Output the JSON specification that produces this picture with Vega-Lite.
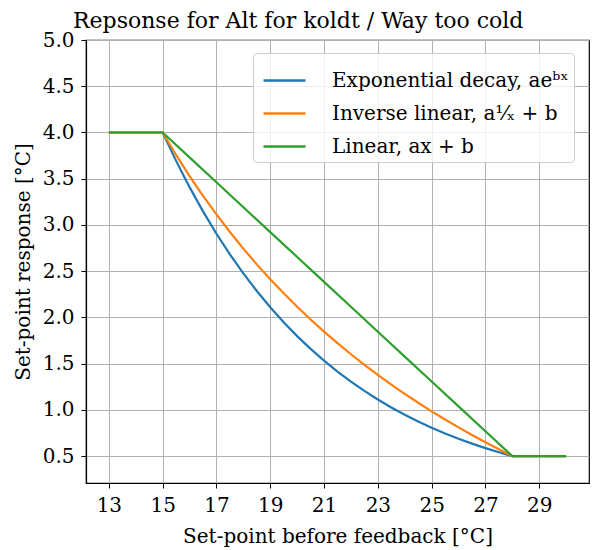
{
  "$schema": "https://vega.github.io/schema/vega-lite/v6.json",
  "width": 503,
  "height": 443,
  "autosize": {"type": "none"},
  "padding": {"left": 86, "top": 40, "right": 6, "bottom": 67},
  "background": "white",
  "title": {
    "text": "Repsonse for Alt for koldt / Way too cold",
    "anchor": "start",
    "frame": "group",
    "dx": -13,
    "offset": -3,
    "font": "DejaVu Serif",
    "fontSize": 22,
    "fontWeight": "normal",
    "color": "black"
  },
  "data": {
    "values": [
      {"s": "exp", "x": 13, "y": 4.0},
      {"s": "exp", "x": 14, "y": 4.0},
      {"s": "exp", "x": 15, "y": 4.0},
      {"s": "exp", "x": 15.5, "y": 3.693},
      {"s": "exp", "x": 16, "y": 3.409},
      {"s": "exp", "x": 16.5, "y": 3.147},
      {"s": "exp", "x": 17, "y": 2.905},
      {"s": "exp", "x": 17.5, "y": 2.682},
      {"s": "exp", "x": 18, "y": 2.476},
      {"s": "exp", "x": 18.5, "y": 2.286},
      {"s": "exp", "x": 19, "y": 2.110},
      {"s": "exp", "x": 19.5, "y": 1.948},
      {"s": "exp", "x": 20, "y": 1.798},
      {"s": "exp", "x": 20.5, "y": 1.660},
      {"s": "exp", "x": 21, "y": 1.533},
      {"s": "exp", "x": 21.5, "y": 1.415},
      {"s": "exp", "x": 22, "y": 1.306},
      {"s": "exp", "x": 22.5, "y": 1.206},
      {"s": "exp", "x": 23, "y": 1.113},
      {"s": "exp", "x": 23.5, "y": 1.027},
      {"s": "exp", "x": 24, "y": 0.949},
      {"s": "exp", "x": 24.5, "y": 0.876},
      {"s": "exp", "x": 25, "y": 0.808},
      {"s": "exp", "x": 25.5, "y": 0.746},
      {"s": "exp", "x": 26, "y": 0.689},
      {"s": "exp", "x": 26.5, "y": 0.636},
      {"s": "exp", "x": 27, "y": 0.587},
      {"s": "exp", "x": 27.5, "y": 0.542},
      {"s": "exp", "x": 28, "y": 0.5},
      {"s": "exp", "x": 29, "y": 0.5},
      {"s": "exp", "x": 30, "y": 0.5},
      {"s": "inv", "x": 13, "y": 4.0},
      {"s": "inv", "x": 14, "y": 4.0},
      {"s": "inv", "x": 15, "y": 4.0},
      {"s": "inv", "x": 15.5, "y": 3.757},
      {"s": "inv", "x": 16, "y": 3.529},
      {"s": "inv", "x": 16.5, "y": 3.315},
      {"s": "inv", "x": 17, "y": 3.114},
      {"s": "inv", "x": 17.5, "y": 2.924},
      {"s": "inv", "x": 18, "y": 2.744},
      {"s": "inv", "x": 18.5, "y": 2.574},
      {"s": "inv", "x": 19, "y": 2.414},
      {"s": "inv", "x": 19.5, "y": 2.261},
      {"s": "inv", "x": 20, "y": 2.116},
      {"s": "inv", "x": 20.5, "y": 1.978},
      {"s": "inv", "x": 21, "y": 1.847},
      {"s": "inv", "x": 21.5, "y": 1.722},
      {"s": "inv", "x": 22, "y": 1.602},
      {"s": "inv", "x": 22.5, "y": 1.488},
      {"s": "inv", "x": 23, "y": 1.379},
      {"s": "inv", "x": 23.5, "y": 1.274},
      {"s": "inv", "x": 24, "y": 1.174},
      {"s": "inv", "x": 24.5, "y": 1.078},
      {"s": "inv", "x": 25, "y": 0.985},
      {"s": "inv", "x": 25.5, "y": 0.897},
      {"s": "inv", "x": 26, "y": 0.811},
      {"s": "inv", "x": 26.5, "y": 0.729},
      {"s": "inv", "x": 27, "y": 0.650},
      {"s": "inv", "x": 27.5, "y": 0.574},
      {"s": "inv", "x": 28, "y": 0.5},
      {"s": "inv", "x": 29, "y": 0.5},
      {"s": "inv", "x": 30, "y": 0.5},
      {"s": "lin", "x": 13, "y": 4.0},
      {"s": "lin", "x": 14, "y": 4.0},
      {"s": "lin", "x": 15, "y": 4.0},
      {"s": "lin", "x": 16, "y": 3.731},
      {"s": "lin", "x": 17, "y": 3.462},
      {"s": "lin", "x": 18, "y": 3.192},
      {"s": "lin", "x": 19, "y": 2.923},
      {"s": "lin", "x": 20, "y": 2.654},
      {"s": "lin", "x": 21, "y": 2.385},
      {"s": "lin", "x": 22, "y": 2.115},
      {"s": "lin", "x": 23, "y": 1.846},
      {"s": "lin", "x": 24, "y": 1.577},
      {"s": "lin", "x": 25, "y": 1.308},
      {"s": "lin", "x": 26, "y": 1.038},
      {"s": "lin", "x": 27, "y": 0.769},
      {"s": "lin", "x": 28, "y": 0.5},
      {"s": "lin", "x": 29, "y": 0.5},
      {"s": "lin", "x": 30, "y": 0.5}
    ]
  },
  "mark": {"type": "line", "strokeWidth": 2.2, "clip": true},
  "encoding": {
    "x": {
      "field": "x",
      "type": "quantitative",
      "scale": {"domain": [12.15, 30.85], "nice": false, "zero": false},
      "axis": {
        "values": [13, 15, 17, 19, 21, 23, 25, 27, 29],
        "format": "d",
        "title": "Set-point before feedback [°C]",
        "titlePadding": 11
      }
    },
    "y": {
      "field": "y",
      "type": "quantitative",
      "scale": {"domain": [0.21, 5.0], "nice": false, "zero": false},
      "axis": {
        "values": [0.5, 1.0, 1.5, 2.0, 2.5, 3.0, 3.5, 4.0, 4.5, 5.0],
        "format": ".1f",
        "title": "Set-point response [°C]",
        "titlePadding": 9
      }
    },
    "color": {
      "field": "s",
      "type": "nominal",
      "scale": {"domain": ["exp", "inv", "lin"], "range": ["#1f77b4", "#ff7f0e", "#2ca02c"]},
      "legend": {
        "title": null,
        "orient": "none",
        "legendX": 167,
        "legendY": 13,
        "labelExpr": "datum.value == 'exp' ? 'Exponential decay, aeᵇˣ' : datum.value == 'inv' ? 'Inverse linear, a¹⁄ₓ + b' : 'Linear, ax + b'",
        "labelLimit": 400,
        "symbolType": "stroke",
        "symbolSize": 1764,
        "symbolStrokeWidth": 2.5,
        "symbolOffset": 4,
        "labelFont": "DejaVu Serif",
        "labelFontSize": 20,
        "labelColor": "black",
        "labelOffset": 25,
        "rowPadding": -5,
        "padding": 5,
        "fillColor": "rgba(255,255,255,0.8)",
        "strokeColor": "#cccccc",
        "cornerRadius": 4
      }
    }
  },
  "config": {
    "view": {"stroke": "black", "strokeWidth": 1.2},
    "axis": {
      "labelFont": "DejaVu Serif",
      "labelFontSize": 20,
      "labelColor": "black",
      "titleFont": "DejaVu Serif",
      "titleFontSize": 20,
      "titleFontWeight": "normal",
      "titleColor": "black",
      "domainColor": "black",
      "domainWidth": 1.2,
      "tickColor": "black",
      "tickSize": 5,
      "tickWidth": 1,
      "labelPadding": 7,
      "grid": true,
      "gridColor": "#b0b0b0",
      "gridWidth": 1
    }
  }
}
